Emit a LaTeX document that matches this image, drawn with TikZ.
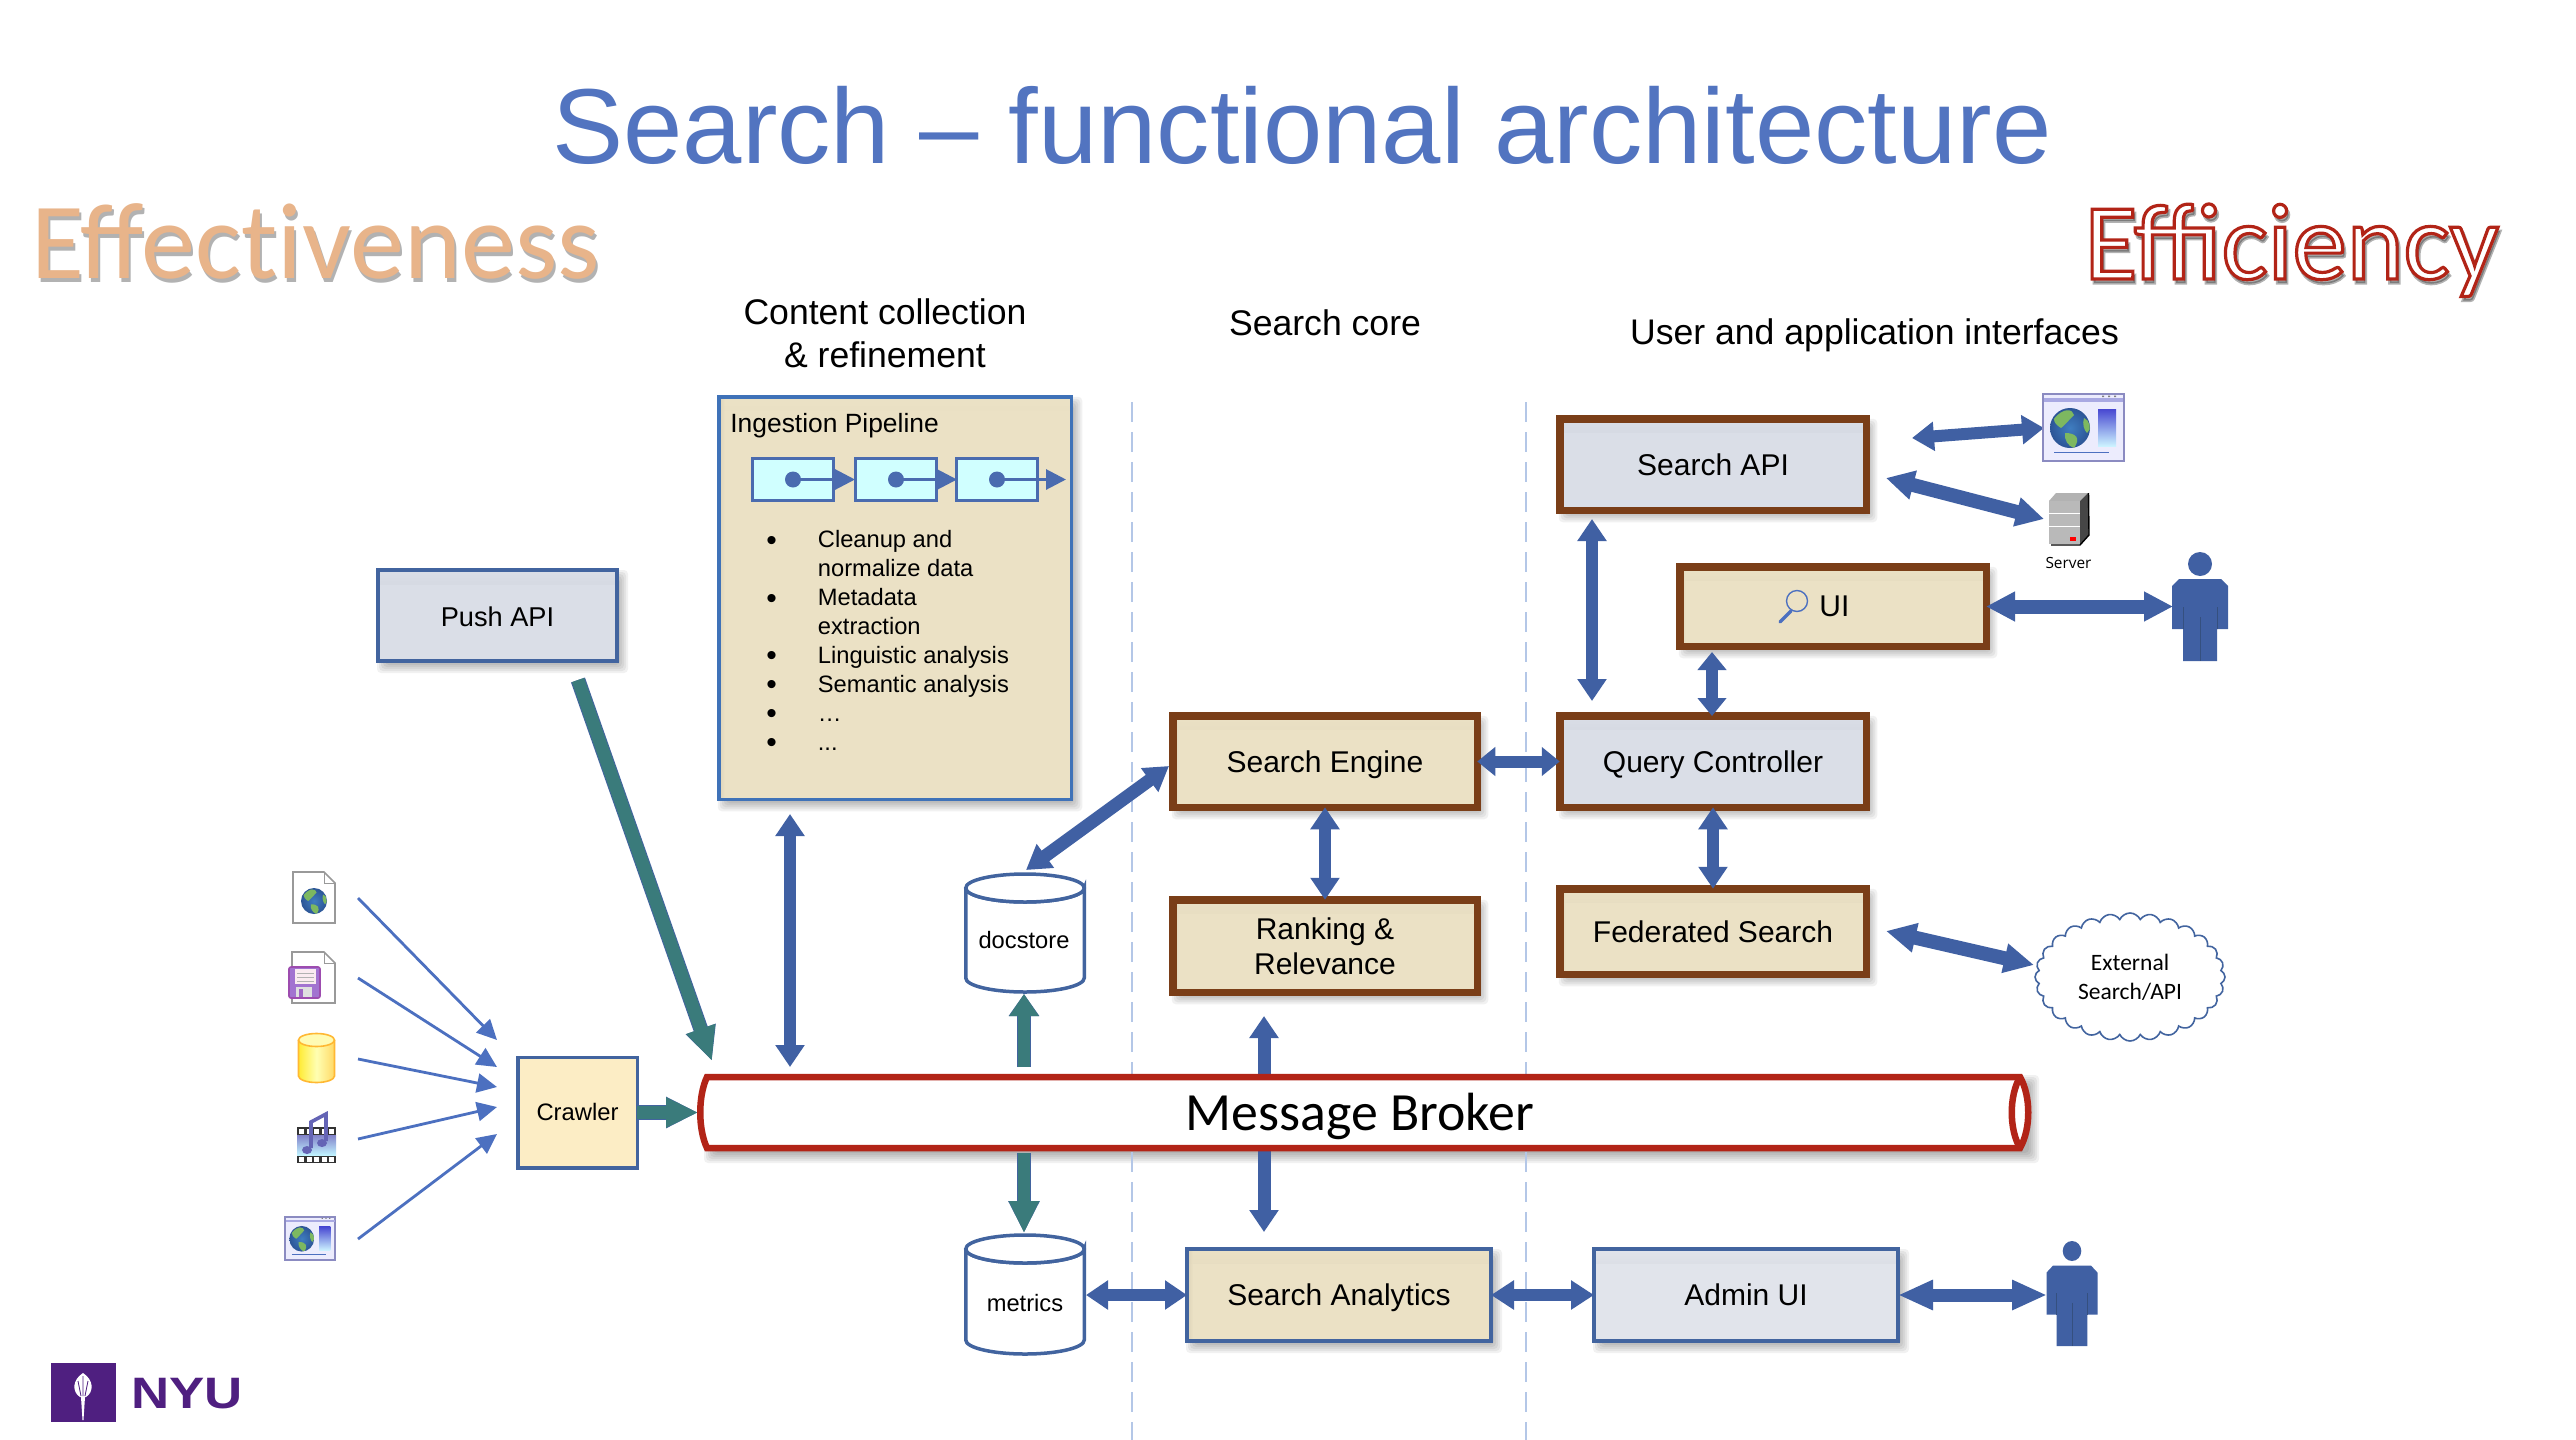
\documentclass[tikz,border=0pt]{standalone}
\usepackage{fontspec}
\setmainfont{Liberation Sans}
\newfontfamily\calfont{Carlito}
\newfontfamily\opfont{Open Sans}
\usetikzlibrary{arrows.meta,shapes.symbols,backgrounds,calc}
\definecolor{ablue}{HTML}{4060A3}
\definecolor{edgeblue}{HTML}{42649F}
\definecolor{thinblue}{HTML}{4C70C0}
\definecolor{ateal}{HTML}{3A7B7B}
\definecolor{brown}{HTML}{7A3E18}
\definecolor{tan}{HTML}{EBE1C5}
\definecolor{tandark}{HTML}{D4CAAF}
\definecolor{grayb}{HTML}{DADEE7}
\definecolor{graydark}{HTML}{BDC1CA}
\definecolor{adminb}{HTML}{E1E4EB}
\definecolor{crimson}{HTML}{B22417}
\definecolor{titleblue}{HTML}{5274C0}
\definecolor{peach}{HTML}{E8B48A}
\definecolor{dashblue}{HTML}{B4C7E7}
\definecolor{ingedge}{HTML}{3F72B8}
\definecolor{pipeline}{HTML}{4A6BAF}
\definecolor{pipefill}{HTML}{D0FFFF}
\definecolor{crawlfill}{HTML}{FCEDC5}
\definecolor{nyu}{HTML}{4F1F80}
\definecolor{globeblue}{HTML}{3F7DC0}
\definecolor{globedark}{HTML}{2C5596}
\definecolor{globegreen}{HTML}{7DB860}
\newcommand{\fs}[2]{\fontsize{#1}{#2}\selectfont}
\newcommand{\bult}{\llap{\raisebox{-1.2pt}{\fs{15}{14.43}•}\hspace{20.5pt}}}
\tikzset{
  bx/.style={draw, rectangle, inner sep=0pt, outer sep=0pt, align=center, font=\fs{15}{17.5}},
  one/.style={text height=10.5pt, text depth=0pt},
  tanfill/.style={fill=tan, path picture={
     \shade[top color=tan, bottom color=tandark] (path picture bounding box.north west) rectangle ([yshift=-7pt]path picture bounding box.north east);
     \shade[left color=tandark, right color=tan, opacity=.6] (path picture bounding box.north west) rectangle ([xshift=3pt]path picture bounding box.south west);}},
  grayfill/.style={fill=#1, path picture={
     \shade[top color=#1, bottom color=graydark] (path picture bounding box.north west) rectangle ([yshift=-7pt]path picture bounding box.north east);}},
  brownbox/.style={bx, draw=brown, line width=3.75pt},
  bluebox/.style={bx, draw=edgeblue, line width=2pt},
  dbl/.style={draw=ablue, line width=6pt, line cap=butt,
     {Triangle[length=#1,width=14pt]}-{Triangle[length=#1,width=14pt]}},
  tealarrow/.style={preaction={draw=edgeblue, line width=7.4pt, -{Triangle[length=#1,width=14.6pt]}},
     draw=ateal, line width=6.4pt, line cap=butt, -{Triangle[length=#1,width=14pt]}},
  thinarrow/.style={draw=thinblue, line width=1.4pt, -{Triangle[length=10pt,width=9.5pt]}},
  divider/.style={draw=dashblue, line width=1pt, dash pattern=on 10pt off 5pt},
  cyl/.style={draw=edgeblue, line width=1.75pt, fill=white},
  head/.style={inner sep=0pt, align=center, font=\fs{17.8}{21.5}},
  small/.style={inner sep=0pt, font=\fs{11.85}{14.43}}
}
\newcommand{\softshadow}[2]{%
  \foreach \e in {-4,-2,0,2,4,6}{
    \fill[black, opacity=.055, rounded corners=2pt] ([shift={(5-\e,6-\e)}]#1) rectangle ([shift={(5+\e,6+\e)}]#2);
  }}
\newcommand{\globe}[3]{%
  \begin{scope}[shift={(#1,#2)},scale=#3]
    \clip (0,0) circle (1);
    \shade[inner color=globeblue, outer color=globedark] (0,0) circle (1);
    \fill[globegreen] (-.8,-.45) .. controls (-.35,-1.05) and (.15,-.95) .. (.2,-.65) .. controls (-.1,-.35) and (-.3,-.1) .. (-.45,0) .. controls (-.7,-.15) and (-.8,-.3) .. cycle;
    \fill[globegreen] (-.25,.25) .. controls (.3,.25) and (.55,.5) .. (.2,1) .. controls (-.1,.9) and (-.3,.6) .. cycle;
    \fill[globegreen] (.7,-.5) .. controls (1,-.4) and (1.1,.1) .. (.85,.25) .. controls (.7,.1) and (.6,-.2) .. cycle;
  \end{scope}}
\newcommand{\webwin}[4]{%
  \begin{scope}[shift={(#1,#2)},xscale=#3,yscale=#4]
    \draw[fill=gray!15!blue!8!white, draw=gray!70!blue!70, line width=.8pt] (0,0) rectangle (81,67);
    \fill[gray!50!blue!45!white] (1,4) rectangle (80,7.5);
    \fill[gray] (59,1.5) rectangle (61,3) (65,1.5) rectangle (67,3) (71,1.5) rectangle (73,3);
    \globe{27}{34}{20}
    \shade[bottom color=blue!25!cyan!20!white, top color=blue!60!gray!90] (55,15) rectangle (73,52);
    \draw[thinblue, line width=.5pt] (11,58) -- (66,58);
  \end{scope}}
\newcommand{\docicon}[4]{%
  \draw[fill=white, draw=gray!80, line width=.8pt] (#1,#2) -- (#3-11,#2) -- (#3,#2+11) -- (#3,#4) -- (#1,#4) -- cycle;
  \draw[gray!80, line width=.5pt] (#3-11,#2) -- (#3-11,#2+11) -- (#3,#2+11);}
\newcommand{\person}[5]{%
  \begin{scope}[shift={(#1,#2)},xscale=#3,yscale=#4]
    \fill[ablue] (0,0) circle (#5);
    \fill[ablue] (-21,15) -- (21,15) -- (28,22) -- (28,65) -- (17,65) -- (17,97) -- (-17,97) -- (-17,65) -- (-28,65) -- (-28,22) -- cycle;
    \draw[edgeblue!80!black, line width=.5pt] (-17,43) -- (-17,65) (17,43) -- (17,65) (0,53) -- (0,97);
  \end{scope}}
\begin{document}
\begin{tikzpicture}[x=0.5pt,y=-0.5pt]
\useasboundingbox (0,0) rectangle (2576,1440);

% dividers
\coordinate (d1t) at (1132,402); \coordinate (d1b) at (1132,1440);
\coordinate (d2t) at (1525.5,402); \coordinate (d2b) at (1525.5,1440);
\draw[divider] (d1t) -- (d1b);
\draw[divider] (d2t) -- (d2b);

% titles
\node[anchor=base, inner sep=0pt, text=titleblue, font=\fs{53.3}{60}] (title) at (1302,163) {Search – functional architecture};
\node[anchor=base west, inner sep=0pt, text=black, opacity=.3, font=\calfont\fs{54.2}{60}] (effs) at (33,282) {Effect\kern0pt iveness};
\node[anchor=base west, inner sep=0pt, text=peach, font=\calfont\fs{54.2}{60}] (eff) at (31,278) {Effect\kern0pt iveness};
\node[anchor=base west, inner sep=0pt, opacity=.3, font=\calfont\fs{54.3}{60}] (efcs) at (2086,283) {\special{pdf:code 2 Tr 1.6 w 0 0 0 RG 0 0 0 rg}Efficiency\special{pdf:code 0 Tr 0 G 0 g}};
\node[anchor=base west, inner sep=0pt, font=\calfont\fs{54.3}{60}] (efc) at (2084,279) {\special{pdf:code 2 Tr 1.6 w 0.698 0.141 0.09 RG 1 1 1 rg}Efficiency\special{pdf:code 0 Tr 0 G 0 g}};
\node[head] (h1) at (885,333) {Content collection\\\& refinement};
\node[anchor=base, head] (h2) at (1325,335) {Search core};
\node[anchor=base, head] (h3) at (1874.5,344) {User and application interfaces};

% boxes
\node[bx, draw=ingedge, line width=1.75pt, tanfill, minimum width=176.25pt, minimum height=201.25pt] (ingest) at (895,598) {};
\node[brownbox, grayfill=grayb, one, minimum width=153.25pt, minimum height=45.75pt] (sapi) at (1713,464.5) {Search API};
\node[brownbox, tanfill, minimum width=153.25pt, minimum height=39.75pt, one] (ui) at (1833,606.5) {};
\node[anchor=base west, inner sep=0pt, font=\fs{15}{17.5}] (uilabel) at (1819,616) {UI};
\node[brownbox, grayfill=grayb, one, minimum width=153.25pt, minimum height=45.75pt] (qc) at (1713,761.5) {Query Controller};
\node[brownbox, tanfill, one, minimum width=152.25pt, minimum height=45.75pt] (se) at (1325,761.5) {Search Engine};
\node[brownbox, tanfill, minimum width=152.25pt, minimum height=46.25pt] (rank) at (1325,946) {Ranking \&\\Relevance};
\node[brownbox, tanfill, one, minimum width=153.25pt, minimum height=42.75pt] (fed) at (1713,931.5) {Federated Search};
\node[bluebox, tanfill, one, minimum width=152pt, minimum height=46pt] (sa) at (1339,1295) {Search Analytics};
\node[bluebox, grayfill=adminb, one, minimum width=152pt, minimum height=46pt] (admin) at (1746,1295) {Admin UI};
\node[bluebox, grayfill=grayb, one, minimum width=119.5pt, minimum height=45.5pt, font=\fs{13.6}{16}] (push) at (497.5,615.5) {Push API};
\node[bx, draw=edgeblue, line width=1.75pt, fill=crawlfill, minimum width=59.75pt, minimum height=55.25pt, font=\fs{11.9}{14}, text height=7.6pt, text depth=0pt] (crawler) at (577.5,1112.5) {Crawler};

% white page and shadows
\begin{pgfonlayer}{background}
  \fill[white] (0,0) rectangle (2576,1440);
  \foreach \n in {ingest,sapi,ui,qc,se,rank,fed,sa,admin,push}{
    \softshadow{\n.north west}{\n.south east}
  }
  \coordinate (brNW) at (705,1075); \coordinate (brSE) at (2028,1151);
  \softshadow{brNW}{brSE}
\end{pgfonlayer}

% ingestion content
\node[anchor=base west, inner sep=0pt, font=\fs{13.2}{16}] (ingtitle) at (730,432) {Ingestion Pipeline};
\node[draw=pipeline, line width=1.5pt, fill=pipefill, minimum width=40.5pt, minimum height=21pt, inner sep=0pt] (p1) at (793,479.5) {};
\node[draw=pipeline, line width=1.5pt, fill=pipefill, minimum width=40.5pt, minimum height=21pt, inner sep=0pt] (p2) at (896,479.5) {};
\node[draw=pipeline, line width=1.5pt, fill=pipefill, minimum width=40.5pt, minimum height=21pt, inner sep=0pt] (p3) at (997,479.5) {};
\coordinate (t1) at (855,479.5); \coordinate (t2) at (957,479.5); \coordinate (t3) at (1066,479.5);
\foreach \a/\b in {p1/t1,p2/t2,p3/t3}{
  \fill[pipeline] (\a.center) circle (8);
  \draw[pipeline, line width=1.5pt, -{Triangle[length=10pt,width=10pt]}] (\a.center) -- (\b);
}
\node[anchor=base west, small, align=left] (bul) at (817.5,750) {%
  \bult Cleanup and\\
  normalize data\\
  \bult Metadata\\
  extraction\\
  \bult Linguistic analysis\\
  \bult Semantic analysis\\
  \bult …\\
  \bult ...};

% magnifier
\draw[thinblue, line width=.7pt] (1797,601) circle (10.5);
\coordinate (magA) at (1791,611); \coordinate (magB) at (1780,622);
\draw[thinblue, line width=1.7pt, line cap=round] (magA) -- (magB);

% cylinders
\draw[cyl] (965.75,888) -- (965.75,978) arc[start angle=180,end angle=0,x radius=59.25,y radius=14] -- (1084.25,888) arc[start angle=0,end angle=180,x radius=59.25,y radius=14];
\draw[cyl] (1025,888) circle [x radius=59.25,y radius=14];
\node[small] (doc) at (1024,940.5) {docstore};
\draw[cyl] (965.75,1249) -- (965.75,1340) arc[start angle=180,end angle=0,x radius=59.25,y radius=14] -- (1084.25,1249) arc[start angle=0,end angle=180,x radius=59.25,y radius=14];
\draw[cyl] (1025,1249) circle [x radius=59.25,y radius=14];
\node[small] (met) at (1025,1303.5) {metrics};

% connector end points
\coordinate (ingA) at (790,814); \coordinate (ingB) at (790,1067);
\coordinate (pushA) at (578,680); \coordinate (pushB) at (712,1061);
\coordinate (crB) at (698,1112.5);
\coordinate (dsA) at (1169,766); \coordinate (dsB) at (1026,870);
\coordinate (dsT) at (1024,994); \coordinate (dsF) at (1024,1067);
\coordinate (mtF) at (1024,1153); \coordinate (mtT) at (1024,1233);
\coordinate (busA) at (1264,1016); \coordinate (busB) at (1264,1232);
\coordinate (apiQa) at (1592,519); \coordinate (apiQb) at (1592,701);
\coordinate (uiQa) at (1712,652); \coordinate (uiQb) at (1712,716);
\coordinate (gA) at (1912,438); \coordinate (gB) at (2044,428);
\coordinate (svA) at (1886,478); \coordinate (svB) at (2044,519);
\coordinate (uiPa) at (1986,606.5); \coordinate (uiPb) at (2173,606.5);
\coordinate (exA) at (1886,931); \coordinate (exB) at (2034,965);
\coordinate (mA) at (1086,1295);
\coordinate (adPb) at (2047,1295);

% sources
\docicon{293}{872}{335}{923}
\globe{314}{901}{13}
\docicon{292}{952}{335}{1003}
\draw[fill=purple!45!blue!55!white, draw=purple!60!blue!70, line width=.8pt, rounded corners=1pt] (289,967) rectangle (320,998);
\fill[white!92!purple] (295,969) rectangle (316,984);
\draw[gray!60, line width=.3pt] (297,973) -- (314,973) (297,977) -- (314,977) (297,981) -- (314,981);
\fill[gray!25] (296,987) rectangle (312,997);
\fill[purple!50!blue!60] (299,989) rectangle (303,997);
% yellow cylinder
\shade[left color=yellow!80!orange!80, right color=yellow!50!orange!60, middle color=yellow!30!white] (298.5,1040) -- (298.5,1076) arc[start angle=180,end angle=0,x radius=18,y radius=6.5] -- (334.5,1040) -- cycle;
\draw[orange!70!yellow!80, line width=.8pt] (298.5,1040) -- (298.5,1076) arc[start angle=180,end angle=0,x radius=18,y radius=6.5] -- (334.5,1040);
\draw[orange!70!yellow!80, fill=yellow!30!white, line width=.8pt] (316.5,1040) circle [x radius=18,y radius=6.5];
% film and note
\fill[gray!40!black] (297,1127) rectangle (336,1163);
\shade[bottom color=blue!20!cyan!25!white, top color=blue!40!gray!70] (297,1135) rectangle (336,1155);
\foreach \i in {0,...,4}{
  \fill[white] (299+7.6*\i,1129) rectangle (304+7.6*\i,1134);
  \fill[white] (299+7.6*\i,1157) rectangle (304+7.6*\i,1162);
}
\draw[blue!35!gray!90, line width=1.8pt] (311,1148) -- (311,1122) -- (326,1114) -- (326,1141);
\fill[blue!35!gray!90] (307,1150) circle [x radius=5,y radius=4];
\fill[blue!35!gray!90] (322,1143) circle [x radius=5,y radius=4];
% window
\webwin{285}{1217}{0.62}{0.64}

% thin arrows
\foreach \i/\ya/\yb in {1/898/1040,2/978/1067,3/1059/1087,4/1139/1107,5/1239/1134}{
  \coordinate (sa\i) at (358,\ya);
  \coordinate (sb\i) at (497,\yb);
  \draw[thinarrow] (sa\i) -- (sb\i);
}

% thick connectors
\draw[dbl=11pt] (ingA) -- (ingB);
\draw[dbl=12pt, line width=6.5pt] (dsA) -- (dsB);
\draw[dbl=9pt] (se.east) -- (qc.west);
\draw[dbl=11pt] (se.south) -- (rank.north);
\draw[dbl=11pt] (qc.south) -- (fed.north);
\draw[dbl=9pt] (uiQa) -- (uiQb);
\draw[dbl=11pt] (apiQa) -- (apiQb);
\draw[dbl=11pt] (gA) -- (gB);
\draw[dbl=14pt, line width=7pt] (svA) -- (svB);
\draw[dbl=14.5pt, line width=7pt] (uiPa) -- (uiPb);
\draw[dbl=15pt, line width=7pt] (exA) -- (exB);
\draw[dbl=11pt, line width=6.5pt] (busA) -- (busB);
\draw[dbl=11pt] (mA) -- (sa.west);
\draw[dbl=11.5pt] (sa.east) -- (admin.west);
\draw[dbl=17.5pt, line width=6.5pt] (admin.east) -- (adPb);
\draw[tealarrow=17pt] (pushA) -- (pushB);
\draw[tealarrow=16pt] (crawler.east) -- (crB);
\draw[tealarrow=11pt] (dsF) -- (dsT);
\draw[tealarrow=16pt] (mtF) -- (mtT);

% broker
\draw[draw=crimson, line width=3.25pt, fill=white] (707,1077) -- (2020,1077) .. controls (2031,1096) and (2031,1129) .. (2020,1148) -- (707,1148) .. controls (698,1129) and (698,1096) .. (707,1077) -- cycle;
\draw[draw=crimson, line width=3.25pt] (2020,1077) .. controls (2009,1096) and (2009,1129) .. (2020,1148);
\node[anchor=base, inner sep=0pt, font=\calfont\fs{26.9}{30}] (broker) at (1360,1130) {Message Broker};

% right-hand icons
\webwin{2043}{394}{1}{1}
\fill[gray!60] (2049,501) -- (2056,493) -- (2088,493) -- (2080,501) -- cycle;
\fill[gray!55!black] (2080,501) -- (2088,493) -- (2089,535) -- (2080,545) -- cycle;
\draw[black, line width=.7pt] (2088.5,493) -- (2089,535) -- (2080,545) -- (2051,545);
\fill[gray!55] (2049,501) rectangle (2080,544);
\draw[white, line width=.5pt] (2049,513) -- (2080,513) (2049,526) -- (2080,526);
\fill[red] (2070,537) rectangle (2076,541);
\node[anchor=base, inner sep=0pt, font=\opfont\fs{7.7}{9}] (srv) at (2068.5,568) {Server};
\person{2200}{564}{1}{1}{12}
\person{2072}{1251}{.91}{.98}{10.2}

% cloud
\node[cloud, cloud puffs=28, cloud puff arc=130, aspect=1.5, draw=edgeblue, line width=.8pt, fill=white, minimum width=95pt, minimum height=64pt, inner sep=0pt, align=center, font=\calfont\fs{11.75}{14.5}] (ext) at (2130,977) {External\\Search/API};

% logo
\fill[nyu] (51,1363) rectangle (116,1422);
\fill[white] (83,1373) .. controls (72,1380) and (72,1392) .. (80,1397) -- (86,1397) .. controls (94,1392) and (94,1380) .. (83,1373) -- cycle;
\fill[white] (81,1397) -- (85,1397) -- (83.5,1420) -- (82.5,1420) -- cycle;
\draw[nyu, line width=.4pt] (83,1376) -- (83,1396) (78,1381) -- (81,1396) (88,1381) -- (85,1396);
\node[anchor=base west, inner sep=0pt, text=nyu, transform shape, xscale=1.2, font=\bfseries\fs{22}{24}] (nyu) at (131,1408) {NYU};
\end{tikzpicture}
\end{document}
